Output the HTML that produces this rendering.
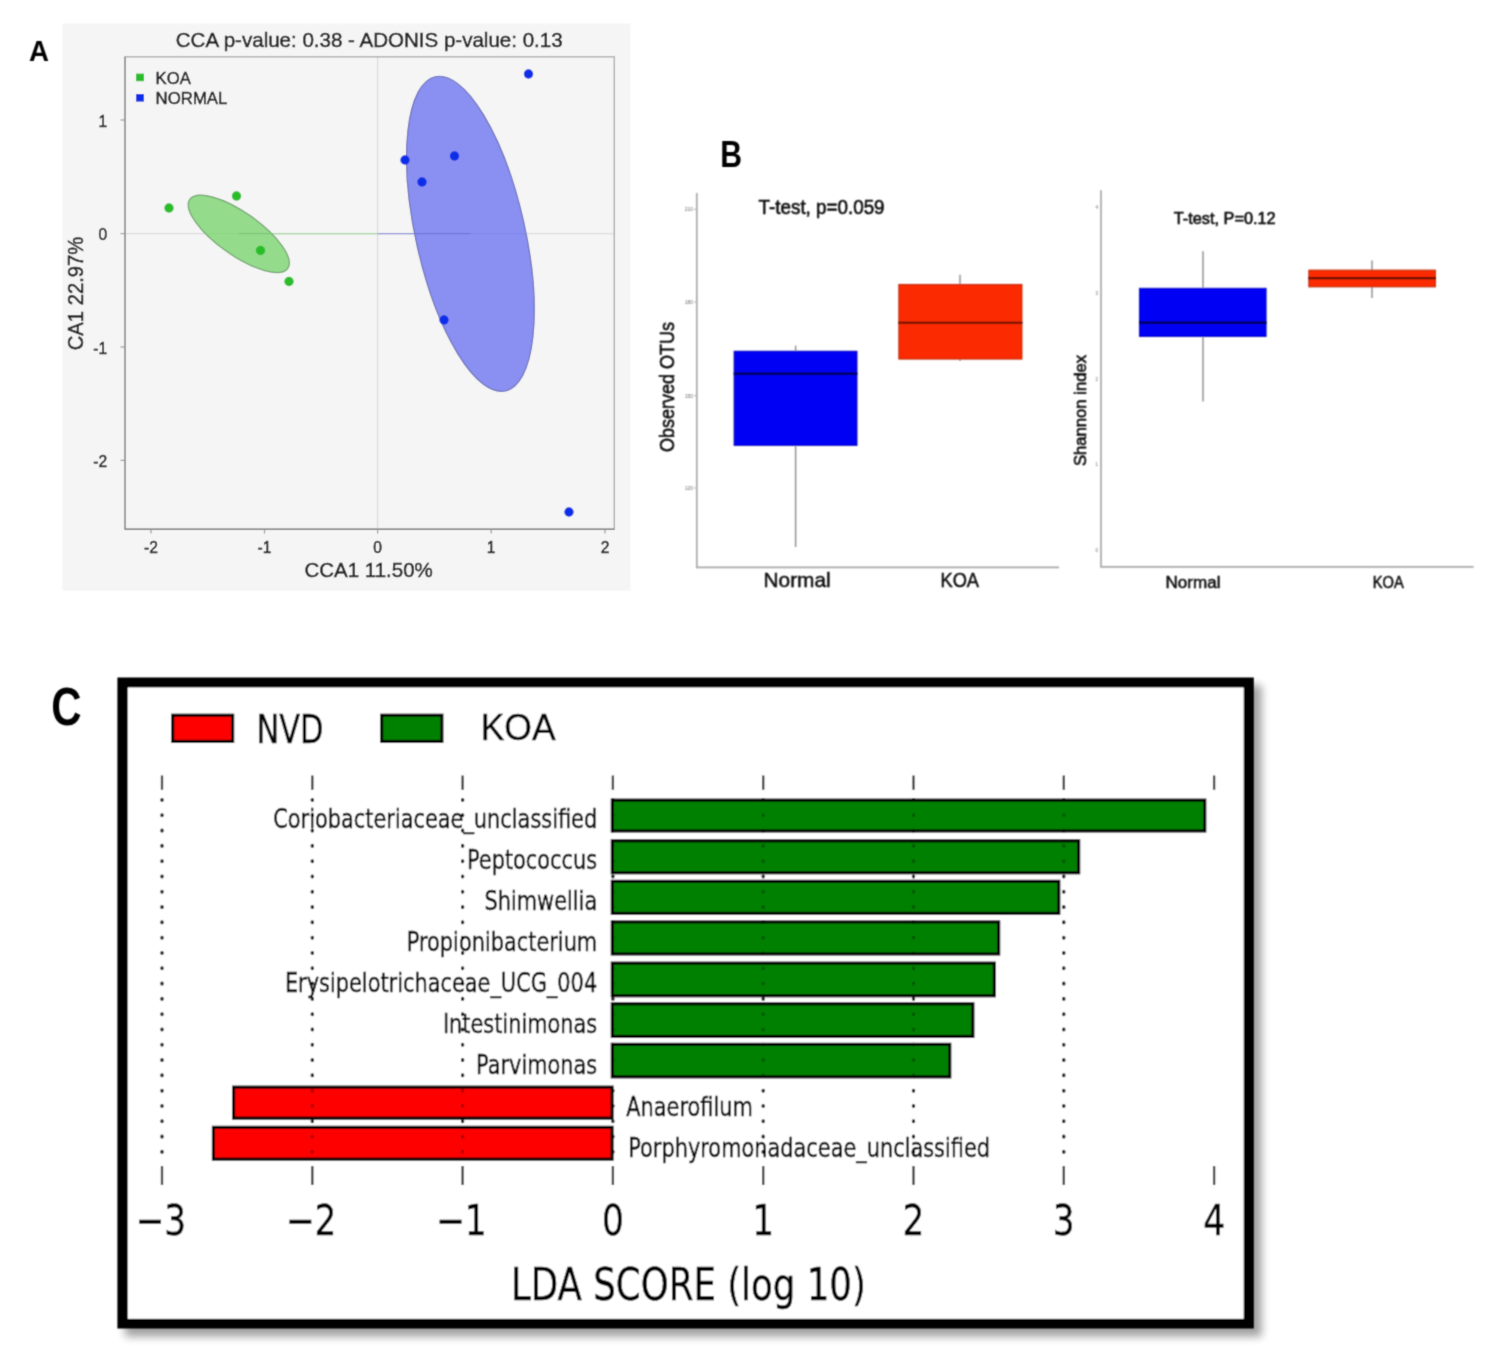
<!DOCTYPE html>
<html lang="en"><head><meta charset="utf-8"><title>Figure</title>
<style>
html,body{margin:0;padding:0;background:#fff;}
body{width:1502px;height:1360px;overflow:hidden;}
svg{display:block;}
.a{font-family:"Liberation Sans",sans-serif;fill:#1c1c1c;stroke:#1c1c1c;stroke-width:0.5;}
.b{font-family:"Liberation Sans",sans-serif;fill:#101010;stroke:#101010;stroke-width:0.6;}
.bt{font-family:"Liberation Sans",sans-serif;fill:#707070;}
.c{font-family:"DejaVu Sans","Liberation Sans",sans-serif;fill:#000;stroke:#000;stroke-width:0.45;}
.lbl{font-family:"Liberation Sans",sans-serif;font-weight:bold;fill:#000;}
</style></head><body>
<svg width="1502" height="1360" viewBox="0 0 1502 1360">
<defs>
<filter id="sh" x="-5%" y="-5%" width="110%" height="110%"><feGaussianBlur stdDeviation="4.2"/></filter>
<filter id="soft" x="-2%" y="-2%" width="104%" height="104%"><feConvolveMatrix order="3" kernelMatrix="0.0225 0.1050 0.0225 0.1050 0.4900 0.1050 0.0225 0.1050 0.0225" edgeMode="none" preserveAlpha="false"/></filter>
<filter id="softb" x="-2%" y="-2%" width="104%" height="104%"><feConvolveMatrix order="3" kernelMatrix="0.0529 0.1242 0.0529 0.1242 0.2916 0.1242 0.0529 0.1242 0.0529" edgeMode="none" preserveAlpha="false"/></filter>
<filter id="soft2" x="-2%" y="-2%" width="104%" height="104%"><feConvolveMatrix order="3" kernelMatrix="0.0400 0.1200 0.0400 0.1200 0.3600 0.1200 0.0400 0.1200 0.0400" edgeMode="none" preserveAlpha="false"/></filter>
</defs>
<rect width="1502" height="1360" fill="#ffffff"/>

<g id="panelA" filter="url(#soft)">
<rect x="62.5" y="23.4" width="568" height="567.3" fill="#f5f5f5"/>
<line x1="377.6" y1="57" x2="377.6" y2="529" stroke="#d8d8d8" stroke-width="1.1"/>
<line x1="125" y1="233.6" x2="614" y2="233.6" stroke="#dcdcdc" stroke-width="1.2"/>
<line x1="239" y1="233.6" x2="377.6" y2="233.6" stroke="#a2d69a" stroke-width="1.3"/>
<line x1="377.6" y1="233.6" x2="470" y2="233.6" stroke="#8d91d8" stroke-width="1.3"/>
<ellipse cx="238.8" cy="233.85" rx="59.9" ry="21.4" transform="rotate(35.1 238.8 233.85)" fill="#94db8c" stroke="#6fa46d" stroke-width="1.2"/>
<ellipse cx="470.4" cy="233.85" rx="54.6" ry="161" transform="rotate(-12.6 470.4 233.85)" fill="#8a90f2" stroke="#6a6fb8" stroke-width="1.2"/>
<line x1="208" y1="233.6" x2="239" y2="233.6" stroke="#8fd587" stroke-width="1.2"/>
<line x1="239" y1="233.6" x2="270" y2="233.6" stroke="#80c878" stroke-width="1.3"/>
<line x1="415.5" y1="233.6" x2="470" y2="233.6" stroke="#6f75d8" stroke-width="1.3"/>
<line x1="470" y1="233.6" x2="526" y2="233.6" stroke="#8288ea" stroke-width="1.2"/>
<rect x="125" y="56.8" width="489.3" height="472.5" fill="none" stroke="#a8a8a8" stroke-width="1.3"/>
<line x1="125" y1="56.8" x2="125" y2="529.3" stroke="#8c8c8c" stroke-width="1.4"/>
<line x1="125" y1="529.3" x2="614.3" y2="529.3" stroke="#808080" stroke-width="1.4"/>
<line x1="151" y1="529.3" x2="151" y2="533.5" stroke="#9a9a9a" stroke-width="1.2"/>
<line x1="264.5" y1="529.3" x2="264.5" y2="533.5" stroke="#9a9a9a" stroke-width="1.2"/>
<line x1="377.6" y1="529.3" x2="377.6" y2="533.5" stroke="#9a9a9a" stroke-width="1.2"/>
<line x1="491.2" y1="529.3" x2="491.2" y2="533.5" stroke="#9a9a9a" stroke-width="1.2"/>
<line x1="605" y1="529.3" x2="605" y2="533.5" stroke="#9a9a9a" stroke-width="1.2"/>
<line x1="120.5" y1="120" x2="125" y2="120" stroke="#9a9a9a" stroke-width="1.2"/>
<line x1="120.5" y1="233.6" x2="125" y2="233.6" stroke="#9a9a9a" stroke-width="1.2"/>
<line x1="120.5" y1="347" x2="125" y2="347" stroke="#9a9a9a" stroke-width="1.2"/>
<line x1="120.5" y1="460.4" x2="125" y2="460.4" stroke="#9a9a9a" stroke-width="1.2"/>
<circle cx="169" cy="208" r="4.7" fill="#2bbd2b"/>
<circle cx="236.5" cy="196" r="4.7" fill="#2bbd2b"/>
<circle cx="260.5" cy="250.5" r="4.7" fill="#2bbd2b"/>
<circle cx="289" cy="281.5" r="4.7" fill="#2bbd2b"/>
<circle cx="528.5" cy="74" r="4.7" fill="#0a2fe8"/>
<circle cx="405" cy="160" r="4.7" fill="#0a2fe8"/>
<circle cx="454.5" cy="156" r="4.7" fill="#0a2fe8"/>
<circle cx="422" cy="182" r="4.7" fill="#0a2fe8"/>
<circle cx="444" cy="320" r="4.7" fill="#0a2fe8"/>
<circle cx="569" cy="512" r="4.7" fill="#0a2fe8"/>
<rect x="136" y="73.6" width="8" height="7.6" fill="#2bbd2b"/>
<rect x="136" y="94" width="8" height="7.6" fill="#0a2fe8"/>
<text class="a" x="155.6" y="83.5" font-size="16.2" textLength="35.2" lengthAdjust="spacingAndGlyphs">KOA</text>
<text class="a" x="155.6" y="103.6" font-size="16.2" textLength="71.8" lengthAdjust="spacingAndGlyphs">NORMAL</text>
<text class="a" x="175.8" y="47.3" font-size="20.8" textLength="386.8" lengthAdjust="spacingAndGlyphs">CCA p-value: 0.38 - ADONIS p-value: 0.13</text>
<text class="a" transform="translate(151 552.6) scale(0.92 1)" font-size="17" text-anchor="middle">-2</text>
<text class="a" transform="translate(264.5 552.6) scale(0.92 1)" font-size="17" text-anchor="middle">-1</text>
<text class="a" transform="translate(377.6 552.6) scale(0.92 1)" font-size="17" text-anchor="middle">0</text>
<text class="a" transform="translate(491.2 552.6) scale(0.92 1)" font-size="17" text-anchor="middle">1</text>
<text class="a" transform="translate(605 552.6) scale(0.92 1)" font-size="17" text-anchor="middle">2</text>
<text class="a" transform="translate(107.2 126.5) scale(0.92 1)" font-size="17" text-anchor="end">1</text>
<text class="a" transform="translate(107.2 240.1) scale(0.92 1)" font-size="17" text-anchor="end">0</text>
<text class="a" transform="translate(107.2 353.5) scale(0.92 1)" font-size="17" text-anchor="end">-1</text>
<text class="a" transform="translate(107.2 466.9) scale(0.92 1)" font-size="17" text-anchor="end">-2</text>
<text class="a" x="304.4" y="576.9" font-size="20.8" textLength="128.4" lengthAdjust="spacingAndGlyphs">CCA1 11.50%</text>
<text class="a" transform="translate(82.6 350.3) rotate(-90)" font-size="22" textLength="113.6" lengthAdjust="spacingAndGlyphs">CA1 22.97%</text>
</g>
<g filter="url(#soft2)">
<text class="lbl" x="29" y="61" font-size="29" textLength="20" lengthAdjust="spacingAndGlyphs">A</text>
<text class="lbl" x="720.3" y="167" font-size="37" textLength="21.8" lengthAdjust="spacingAndGlyphs">B</text>
<text class="lbl" x="51.3" y="725.1" font-size="53" textLength="30.3" lengthAdjust="spacingAndGlyphs">C</text>
</g>
<g id="panelB" filter="url(#softb)">
<path d="M696.8 193 V567.4 H1059" fill="none" stroke="#a8a8a8" stroke-width="1.7"/>
<line x1="795.6" y1="345.6" x2="795.6" y2="547" stroke="#8a8a8a" stroke-width="1.4"/>
<rect x="734.1" y="351.2" width="122.9" height="94.2" fill="#0000f5" stroke="#0a0ab8" stroke-width="0.9"/>
<line x1="733.7" y1="373.8" x2="857.4" y2="373.8" stroke="#000052" stroke-width="2.4"/>
<line x1="960" y1="274.7" x2="960" y2="361" stroke="#8a8a8a" stroke-width="1.4"/>
<rect x="898.8" y="284.4" width="123.2" height="74.7" fill="#fb2b03" stroke="#b52a0c" stroke-width="0.9"/>
<line x1="898.4" y1="322.7" x2="1022.4" y2="322.7" stroke="#5a0c00" stroke-width="2"/>
<text class="bt" x="693" y="211.10000000000002" font-size="5" text-anchor="end">210</text>
<line x1="694" y1="209.3" x2="696.8" y2="209.3" stroke="#b0b0b0" stroke-width="1"/>
<text class="bt" x="693" y="303.8" font-size="5" text-anchor="end">180</text>
<line x1="694" y1="302" x2="696.8" y2="302" stroke="#b0b0b0" stroke-width="1"/>
<text class="bt" x="693" y="397.5" font-size="5" text-anchor="end">150</text>
<line x1="694" y1="395.7" x2="696.8" y2="395.7" stroke="#b0b0b0" stroke-width="1"/>
<text class="bt" x="693" y="489.8" font-size="5" text-anchor="end">120</text>
<line x1="694" y1="488" x2="696.8" y2="488" stroke="#b0b0b0" stroke-width="1"/>
<text class="b" x="758.6" y="214.3" font-size="20" textLength="126" lengthAdjust="spacingAndGlyphs">T-test, p=0.059</text>
<text class="b" transform="translate(674 452) rotate(-90)" font-size="21" textLength="130" lengthAdjust="spacingAndGlyphs">Observed OTUs</text>
<text class="b" x="763.6" y="587" font-size="19.8" textLength="67" style="stroke-width:0.5" lengthAdjust="spacingAndGlyphs">Normal</text>
<text class="b" x="940.5" y="587" font-size="19.8" textLength="38.5" style="stroke-width:0.5" lengthAdjust="spacingAndGlyphs">KOA</text>
<path d="M1101 190.3 V566.8 H1473.6" fill="none" stroke="#a8a8a8" stroke-width="1.7"/>
<line x1="1203" y1="251.2" x2="1203" y2="401.6" stroke="#8a8a8a" stroke-width="1.4"/>
<rect x="1139.4" y="288.3" width="126.7" height="48.2" fill="#0000f5" stroke="#0a0ab8" stroke-width="0.9"/>
<line x1="1139" y1="322.7" x2="1266.5" y2="322.7" stroke="#000052" stroke-width="2.4"/>
<line x1="1372" y1="260.6" x2="1372" y2="298" stroke="#8a8a8a" stroke-width="1.4"/>
<rect x="1308.8" y="270.1" width="126.7" height="16.8" fill="#fb2b03" stroke="#b52a0c" stroke-width="0.9"/>
<line x1="1308.4" y1="278.2" x2="1435.9" y2="278.2" stroke="#5a0c00" stroke-width="2.2"/>
<text class="bt" x="1098" y="208.8" font-size="4.5" text-anchor="end">4</text>
<text class="bt" x="1098" y="294.6" font-size="4.5" text-anchor="end">3</text>
<text class="bt" x="1098" y="380.8" font-size="4.5" text-anchor="end">2</text>
<text class="bt" x="1098" y="465.8" font-size="4.5" text-anchor="end">1</text>
<text class="bt" x="1098" y="551.5999999999999" font-size="4.5" text-anchor="end">0</text>
<text class="b" x="1173.7" y="223.8" font-size="16.2" textLength="102" lengthAdjust="spacingAndGlyphs">T-test, P=0.12</text>
<text class="b" transform="translate(1085.5 466) rotate(-90)" font-size="16.5" textLength="111" lengthAdjust="spacingAndGlyphs">Shannon index</text>
<text class="b" x="1165.5" y="587.7" font-size="15.6" textLength="55" style="stroke-width:0.5" lengthAdjust="spacingAndGlyphs">Normal</text>
<text class="b" x="1372.7" y="587.7" font-size="15.6" textLength="31" style="stroke-width:0.5" lengthAdjust="spacingAndGlyphs">KOA</text>
</g>
<g id="panelC">
<rect x="125" y="685" width="1136.6" height="651.6" fill="#000" opacity="0.37" filter="url(#sh)"/>
<g filter="url(#soft2)">
<path d="M117.4 677.6H1253.8V1328.6H117.4Z M127.8 687.6V1318.7H1243.6V687.6Z" fill="#000" fill-rule="evenodd"/>
<rect x="127.8" y="687.6" width="1115.8" height="631.1" fill="#fff"/>
<line x1="162.0" y1="775.5" x2="162.0" y2="789.8" stroke="#333" stroke-width="2.3"/>
<line x1="162.0" y1="1166" x2="162.0" y2="1185" stroke="#333" stroke-width="2.3"/>
<line x1="312.3" y1="775.5" x2="312.3" y2="789.8" stroke="#333" stroke-width="2.3"/>
<line x1="312.3" y1="1166" x2="312.3" y2="1185" stroke="#333" stroke-width="2.3"/>
<line x1="462.6" y1="775.5" x2="462.6" y2="789.8" stroke="#333" stroke-width="2.3"/>
<line x1="462.6" y1="1166" x2="462.6" y2="1185" stroke="#333" stroke-width="2.3"/>
<line x1="612.9" y1="775.5" x2="612.9" y2="789.8" stroke="#333" stroke-width="2.3"/>
<line x1="612.9" y1="1166" x2="612.9" y2="1185" stroke="#333" stroke-width="2.3"/>
<line x1="763.2" y1="775.5" x2="763.2" y2="789.8" stroke="#333" stroke-width="2.3"/>
<line x1="763.2" y1="1166" x2="763.2" y2="1185" stroke="#333" stroke-width="2.3"/>
<line x1="913.5" y1="775.5" x2="913.5" y2="789.8" stroke="#333" stroke-width="2.3"/>
<line x1="913.5" y1="1166" x2="913.5" y2="1185" stroke="#333" stroke-width="2.3"/>
<line x1="1063.8" y1="775.5" x2="1063.8" y2="789.8" stroke="#333" stroke-width="2.3"/>
<line x1="1063.8" y1="1166" x2="1063.8" y2="1185" stroke="#333" stroke-width="2.3"/>
<line x1="1214.1" y1="775.5" x2="1214.1" y2="789.8" stroke="#333" stroke-width="2.3"/>
<line x1="1214.1" y1="1166" x2="1214.1" y2="1185" stroke="#333" stroke-width="2.3"/>
<line x1="162.0" y1="799.6" x2="162.0" y2="1164" stroke="#262626" stroke-width="3.3" stroke-linecap="round" stroke-dasharray="0.7 14.6"/>
<line x1="312.3" y1="799.6" x2="312.3" y2="1164" stroke="#262626" stroke-width="3.3" stroke-linecap="round" stroke-dasharray="0.7 14.6"/>
<line x1="462.6" y1="799.6" x2="462.6" y2="1164" stroke="#262626" stroke-width="3.3" stroke-linecap="round" stroke-dasharray="0.7 14.6"/>
<line x1="612.9" y1="799.6" x2="612.9" y2="1164" stroke="#262626" stroke-width="3.3" stroke-linecap="round" stroke-dasharray="0.7 14.6"/>
<line x1="763.2" y1="799.6" x2="763.2" y2="1164" stroke="#262626" stroke-width="3.3" stroke-linecap="round" stroke-dasharray="0.7 14.6"/>
<line x1="913.5" y1="799.6" x2="913.5" y2="1164" stroke="#262626" stroke-width="3.3" stroke-linecap="round" stroke-dasharray="0.7 14.6"/>
<line x1="1063.8" y1="799.6" x2="1063.8" y2="1164" stroke="#262626" stroke-width="3.3" stroke-linecap="round" stroke-dasharray="0.7 14.6"/>
<rect x="612.3" y="800.1" width="592.5" height="30.9" fill="#008000" stroke="#000" stroke-width="3.1"/>
<rect x="612.3" y="840.8" width="466.4" height="32.0" fill="#008000" stroke="#000" stroke-width="3.1"/>
<rect x="612.3" y="881.3" width="446.5" height="32.0" fill="#008000" stroke="#000" stroke-width="3.1"/>
<rect x="612.3" y="921.9" width="386.4" height="32.1" fill="#008000" stroke="#000" stroke-width="3.1"/>
<rect x="612.3" y="963.1" width="382.0" height="32.7" fill="#008000" stroke="#000" stroke-width="3.1"/>
<rect x="612.3" y="1003.8" width="360.6" height="32.6" fill="#008000" stroke="#000" stroke-width="3.1"/>
<rect x="612.3" y="1044.3" width="337.5" height="32.6" fill="#008000" stroke="#000" stroke-width="3.1"/>
<rect x="233.6" y="1087.1" width="378.5" height="31.1" fill="#ff0000" stroke="#000" stroke-width="3.1"/>
<rect x="213.4" y="1127.3" width="398.7" height="31.9" fill="#ff0000" stroke="#000" stroke-width="3.1"/>
<line x1="162.0" y1="799.6" x2="162.0" y2="1164" stroke="#000" stroke-opacity="0.3" stroke-width="3.3" stroke-linecap="round" stroke-dasharray="0.7 14.6"/>
<line x1="312.3" y1="799.6" x2="312.3" y2="1164" stroke="#000" stroke-opacity="0.3" stroke-width="3.3" stroke-linecap="round" stroke-dasharray="0.7 14.6"/>
<line x1="462.6" y1="799.6" x2="462.6" y2="1164" stroke="#000" stroke-opacity="0.3" stroke-width="3.3" stroke-linecap="round" stroke-dasharray="0.7 14.6"/>
<line x1="612.9" y1="799.6" x2="612.9" y2="1164" stroke="#000" stroke-opacity="0.3" stroke-width="3.3" stroke-linecap="round" stroke-dasharray="0.7 14.6"/>
<line x1="763.2" y1="799.6" x2="763.2" y2="1164" stroke="#000" stroke-opacity="0.3" stroke-width="3.3" stroke-linecap="round" stroke-dasharray="0.7 14.6"/>
<line x1="913.5" y1="799.6" x2="913.5" y2="1164" stroke="#000" stroke-opacity="0.3" stroke-width="3.3" stroke-linecap="round" stroke-dasharray="0.7 14.6"/>
<line x1="1063.8" y1="799.6" x2="1063.8" y2="1164" stroke="#000" stroke-opacity="0.3" stroke-width="3.3" stroke-linecap="round" stroke-dasharray="0.7 14.6"/>
<text class="c" transform="translate(597.2 828.4) scale(0.785 1)" font-size="26.6" text-anchor="end">Coriobacteriaceae_unclassified</text>
<text class="c" transform="translate(597.2 869.2) scale(0.785 1)" font-size="26.6" text-anchor="end">Peptococcus</text>
<text class="c" transform="translate(597.2 910.1) scale(0.785 1)" font-size="26.6" text-anchor="end">Shimwellia</text>
<text class="c" transform="translate(597.2 951.0) scale(0.785 1)" font-size="26.6" text-anchor="end">Propionibacterium</text>
<text class="c" transform="translate(597.2 991.8) scale(0.785 1)" font-size="26.6" text-anchor="end">Erysipelotrichaceae_UCG_004</text>
<text class="c" transform="translate(597.2 1032.7) scale(0.785 1)" font-size="26.6" text-anchor="end">Intestinimonas</text>
<text class="c" transform="translate(597.2 1073.5) scale(0.785 1)" font-size="26.6" text-anchor="end">Parvimonas</text>
<text class="c" transform="translate(626.3 1115.6) scale(0.785 1)" font-size="26.6">Anaerofilum</text>
<text class="c" transform="translate(628.2 1156.5) scale(0.785 1)" font-size="26.6">Porphyromonadaceae_unclassified</text>
<rect x="172.7" y="715.2" width="60" height="26.2" fill="#ff0000" stroke="#000" stroke-width="3.1"/>
<rect x="381.7" y="715.2" width="60.2" height="26.2" fill="#008000" stroke="#000" stroke-width="3.1"/>
<text class="c" transform="translate(256.5 742.7) scale(0.78 1)" font-size="39">NVD</text>
<text x="480.7" y="739.5" font-size="37" textLength="75" lengthAdjust="spacingAndGlyphs" style="font-family:'Liberation Sans',sans-serif;fill:#000;stroke:#000;stroke-width:0.4">KOA</text>
<text class="c" transform="translate(160.8 1235.2) scale(0.8 1)" font-size="43" text-anchor="middle">−3</text>
<text class="c" transform="translate(311.1 1235.2) scale(0.8 1)" font-size="43" text-anchor="middle">−2</text>
<text class="c" transform="translate(461.4 1235.2) scale(0.8 1)" font-size="43" text-anchor="middle">−1</text>
<text class="c" transform="translate(612.9 1235.2) scale(0.8 1)" font-size="43" text-anchor="middle">0</text>
<text class="c" transform="translate(763.2 1235.2) scale(0.8 1)" font-size="43" text-anchor="middle">1</text>
<text class="c" transform="translate(913.5 1235.2) scale(0.8 1)" font-size="43" text-anchor="middle">2</text>
<text class="c" transform="translate(1063.8 1235.2) scale(0.8 1)" font-size="43" text-anchor="middle">3</text>
<text class="c" transform="translate(1214.1 1235.2) scale(0.8 1)" font-size="43" text-anchor="middle">4</text>
<text class="c" transform="translate(688.4 1299.5) scale(0.8 1)" font-size="44.5" text-anchor="middle">LDA SCORE (log 10)</text>
</g>
</g>
</svg>
</body></html>
